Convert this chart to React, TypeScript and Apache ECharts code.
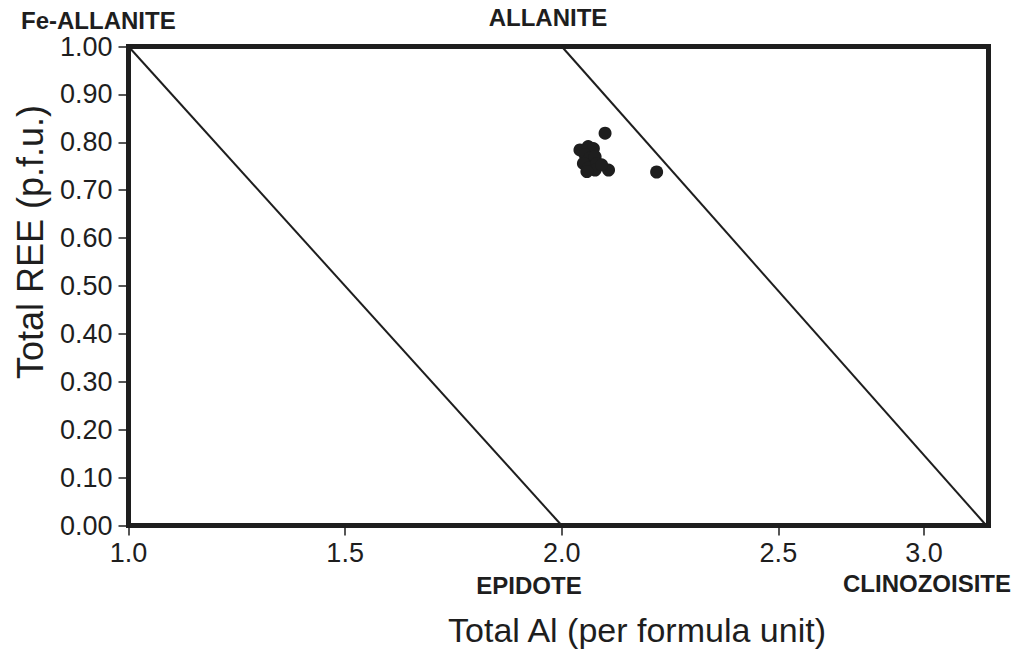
import React, { useEffect, useRef } from "react";
import * as echarts from "echarts";

// Measured compositions (Total Al, Total REE p.f.u.)
const allaniteAl = [2.042, 2.061, 2.073, 2.054, 2.065, 2.077, 2.05, 2.061, 2.081, 2.077, 2.108, 2.092, 2.058, 2.1, 2.219];
const allaniteREE = [0.784, 0.791, 0.787, 0.774, 0.767, 0.77, 0.756, 0.746, 0.756, 0.742, 0.742, 0.753, 0.739, 0.819, 0.738];

// Reference lines (end members)
const feAllaniteEpidote = [[1.0, 1.0], [2.0, 0.0]];
const allaniteClinozoisite = [[2.0, 1.0], [2.98, 0.0]];

// Axis ticks
const xTickValues = [1.0, 1.5, 2.0, 2.5, 2.836];
const xTickLabels = ["1.0", "1.5", "2.0", "2.5", "3.0"];
const yTicks = [0, 0.1, 0.2, 0.3, 0.4, 0.5, 0.6, 0.7, 0.8, 0.9, 1.0];

const FONT = "'Liberation Sans', Arial, Helvetica, sans-serif";
const INK = "#1e1e1e";

export default function App() {
  const ref = useRef<HTMLDivElement>(null);
  useEffect(() => {
    document.body.style.margin = "0";
    const chart = echarts.init(ref.current!, null, { renderer: "svg" });
    const pts = allaniteAl.map((x, i) => [x, allaniteREE[i]]);
    chart.setOption({
      animation: false,
      backgroundColor: "#ffffff",
      grid: {
        left: 128.5,
        top: 46.5,
        width: 860,
        height: 479,
        show: true,
        borderColor: INK,
        borderWidth: 5,
        backgroundColor: "transparent",
      },
      xAxis: {
        type: "value",
        min: 1.0,
        max: 2.985,
        splitLine: { show: false },
        axisLine: { show: true, lineStyle: { color: INK, width: 5 } },
        axisTick: {
          show: true,
          length: 10,
          customValues: xTickValues,
          lineStyle: { color: INK, width: 1.5 },
        },
        axisLabel: {
          customValues: xTickValues,
          margin: 14,
          color: INK,
          fontSize: 27,
          fontFamily: FONT,
          formatter: (v: number) => {
            let best = 0;
            xTickValues.forEach((t, i) => {
              if (Math.abs(t - v) < Math.abs(xTickValues[best] - v)) best = i;
            });
            return xTickLabels[best];
          },
        },
      },
      yAxis: {
        type: "value",
        min: 0,
        max: 1,
        interval: 0.1,
        splitLine: { show: false },
        axisLine: { show: true, lineStyle: { color: INK, width: 5 } },
        axisTick: { show: true, length: 10, lineStyle: { color: INK, width: 1.5 } },
        axisLabel: {
          margin: 16,
          color: INK,
          fontSize: 27,
          fontFamily: FONT,
          formatter: (v: number) => {
            const t = yTicks.find((k) => Math.abs(k - v) < 1e-6);
            return (t ?? v).toFixed(2);
          },
        },
      },
      series: [
        {
          type: "line",
          data: feAllaniteEpidote,
          symbol: "none",
          silent: true,
          lineStyle: { color: INK, width: 2 },
        },
        {
          type: "line",
          data: allaniteClinozoisite,
          symbol: "none",
          silent: true,
          lineStyle: { color: INK, width: 2 },
        },
        {
          type: "scatter",
          data: pts,
          symbolSize: 13,
          itemStyle: { color: INK, opacity: 1 },
        },
      ],
      graphic: [
        {
          type: "text",
          x: 21,
          y: 20,
          style: { text: "Fe-ALLANITE", fill: INK, font: `bold 24px ${FONT}`, textAlign: "left", textVerticalAlign: "middle" },
        },
        {
          type: "text",
          x: 548,
          y: 17,
          style: { text: "ALLANITE", fill: INK, font: `bold 24px ${FONT}`, textAlign: "center", textVerticalAlign: "middle" },
        },
        {
          type: "text",
          x: 529,
          y: 585,
          style: { text: "EPIDOTE", fill: INK, font: `bold 24px ${FONT}`, textAlign: "center", textVerticalAlign: "middle" },
        },
        {
          type: "text",
          x: 927,
          y: 583,
          style: { text: "CLINOZOISITE", fill: INK, font: `bold 24px ${FONT}`, textAlign: "center", textVerticalAlign: "middle" },
        },
        {
          type: "text",
          x: 637,
          y: 630,
          style: { text: "Total Al (per formula unit)", fill: INK, font: `34px ${FONT}`, textAlign: "center", textVerticalAlign: "middle" },
        },
        {
          type: "text",
          x: 30,
          y: 242,
          rotation: Math.PI / 2,
          style: { text: "Total REE (p.f.u.)", fill: INK, font: `36px ${FONT}`, textAlign: "center", textVerticalAlign: "middle" },
        },
      ],
    });
    return () => chart.dispose();
  }, []);
  return <div ref={ref} style={{ width: 1020, height: 649 }} />;
}
